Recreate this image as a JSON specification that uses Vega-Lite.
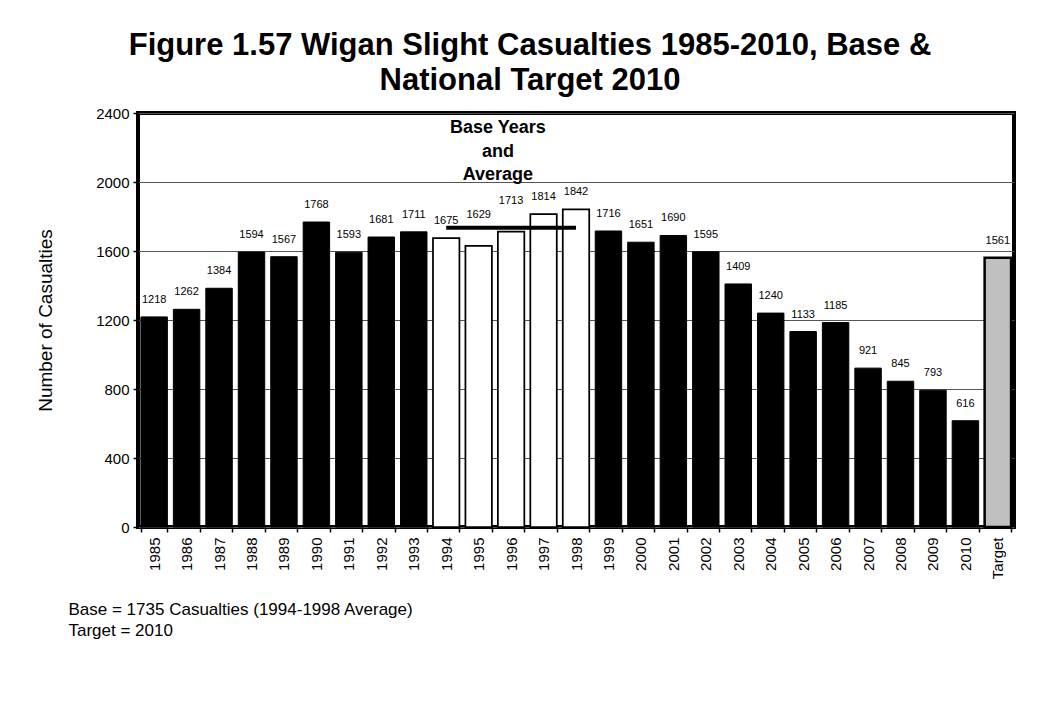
{
  "$schema": "https://vega.github.io/schema/vega-lite/v6.json",
  "width": 876,
  "height": 414,
  "autosize": {"type": "none"},
  "padding": {"left": 138, "top": 113, "right": 26, "bottom": 179},
  "background": "white",
  "title": {
    "text": ["Figure 1.57 Wigan Slight Casualties 1985-2010, Base &", "National Target 2010"],
    "font": "Liberation Sans",
    "fontSize": 31,
    "fontWeight": "bold",
    "color": "black",
    "anchor": "middle",
    "dx": -46,
    "offset": 9,
    "lineHeight": 35
  },
  "config": {
    "view": {"stroke": "black", "strokeWidth": 4},
    "axis": {"labelFont": "Liberation Sans", "titleFont": "Liberation Sans", "labelColor": "black", "titleColor": "black", "tickColor": "black", "domain": false}
  },
  "data": {
    "values": [
      {"year": "1985", "casualties": 1218, "kind": "normal"},
      {"year": "1986", "casualties": 1262, "kind": "normal"},
      {"year": "1987", "casualties": 1384, "kind": "normal"},
      {"year": "1988", "casualties": 1594, "kind": "normal"},
      {"year": "1989", "casualties": 1567, "kind": "normal"},
      {"year": "1990", "casualties": 1768, "kind": "normal"},
      {"year": "1991", "casualties": 1593, "kind": "normal"},
      {"year": "1992", "casualties": 1681, "kind": "normal"},
      {"year": "1993", "casualties": 1711, "kind": "normal"},
      {"year": "1994", "casualties": 1675, "kind": "base"},
      {"year": "1995", "casualties": 1629, "kind": "base"},
      {"year": "1996", "casualties": 1713, "kind": "base"},
      {"year": "1997", "casualties": 1814, "kind": "base"},
      {"year": "1998", "casualties": 1842, "kind": "base"},
      {"year": "1999", "casualties": 1716, "kind": "normal"},
      {"year": "2000", "casualties": 1651, "kind": "normal"},
      {"year": "2001", "casualties": 1690, "kind": "normal"},
      {"year": "2002", "casualties": 1595, "kind": "normal"},
      {"year": "2003", "casualties": 1409, "kind": "normal"},
      {"year": "2004", "casualties": 1240, "kind": "normal"},
      {"year": "2005", "casualties": 1133, "kind": "normal"},
      {"year": "2006", "casualties": 1185, "kind": "normal"},
      {"year": "2007", "casualties": 921, "kind": "normal"},
      {"year": "2008", "casualties": 845, "kind": "normal"},
      {"year": "2009", "casualties": 793, "kind": "normal"},
      {"year": "2010", "casualties": 616, "kind": "normal"},
      {"year": "Target", "casualties": 1561, "kind": "target"}
    ]
  },
  "encoding": {
    "x": {
      "field": "year",
      "type": "nominal",
      "sort": null,
      "scale": {"paddingInner": 0.185, "paddingOuter": 0.09},
      "axis": {
        "title": ["Base = 1735 Casualties (1994-1998 Average)", "Target = 2010"],
        "titleFontSize": 17,
        "titleFontWeight": "normal",
        "titleAlign": "left",
        "titleAnchor": "start",
        "titleBaseline": "alphabetic",
        "titleX": -70,
        "titleY": 87,
        "titleLineHeight": 21,
        "labelAngle": -90,
        "labelFontSize": 15,
        "labelPadding": 5,
        "tickSize": 5,
        "tickWidth": 1.5,
        "tickBand": "extent",
        "grid": false
      }
    },
    "y": {
      "field": "casualties",
      "type": "quantitative",
      "scale": {"domain": [0, 2400], "nice": false},
      "axis": {
        "title": "Number of Casualties",
        "titleFontSize": 19,
        "titleFontWeight": "normal",
        "titlePadding": 40,
        "format": "d",
        "values": [0, 400, 800, 1200, 1600, 2000, 2400],
        "labelFontSize": 15,
        "labelPadding": 4,
        "tickSize": 5,
        "tickWidth": 1.5,
        "grid": true,
        "gridColor": "#555555",
        "gridWidth": 1
      }
    }
  },
  "layer": [
    {
      "mark": {"type": "bar", "stroke": "black"},
      "encoding": {
        "fill": {
          "field": "kind",
          "type": "nominal",
          "scale": {"domain": ["normal", "base", "target"], "range": ["black", "white", "#c0c0c0"]},
          "legend": null
        },
        "strokeWidth": {
          "field": "kind",
          "type": "nominal",
          "scale": {"domain": ["normal", "base", "target"], "range": [1, 2.5, 2.5]},
          "legend": null
        }
      }
    },
    {
      "transform": [{"filter": "datum.year == '1996'"}],
      "mark": {"type": "rule", "color": "black", "strokeWidth": 4},
      "encoding": {
        "x": {"datum": "1994"},
        "x2": {"datum": "1998"},
        "y": {"datum": 1735}
      }
    },
    {
      "transform": [{"filter": "datum.year != '1995' && datum.year != '1996'"}],
      "mark": {"type": "text", "font": "Liberation Sans", "fontSize": 11, "baseline": "middle", "dy": -17, "color": "black"},
      "encoding": {"text": {"field": "casualties", "type": "quantitative"}}
    },
    {
      "transform": [{"filter": "datum.year == '1995' || datum.year == '1996'"}],
      "mark": {"type": "text", "font": "Liberation Sans", "fontSize": 11, "baseline": "middle", "dy": -31, "color": "black"},
      "encoding": {"text": {"field": "casualties", "type": "quantitative"}}
    },
    {
      "transform": [{"filter": "datum.year == '1996'"}],
      "mark": {"type": "text", "font": "Liberation Sans", "fontSize": 18, "fontWeight": "bold", "baseline": "middle", "align": "center", "lineHeight": 23.5, "color": "black",
        "text": ["Base Years", "and", "Average"]},
      "encoding": {
        "x": {"datum": "1996", "bandPosition": 0},
        "y": {"datum": 2313}
      }
    }
  ]
}
